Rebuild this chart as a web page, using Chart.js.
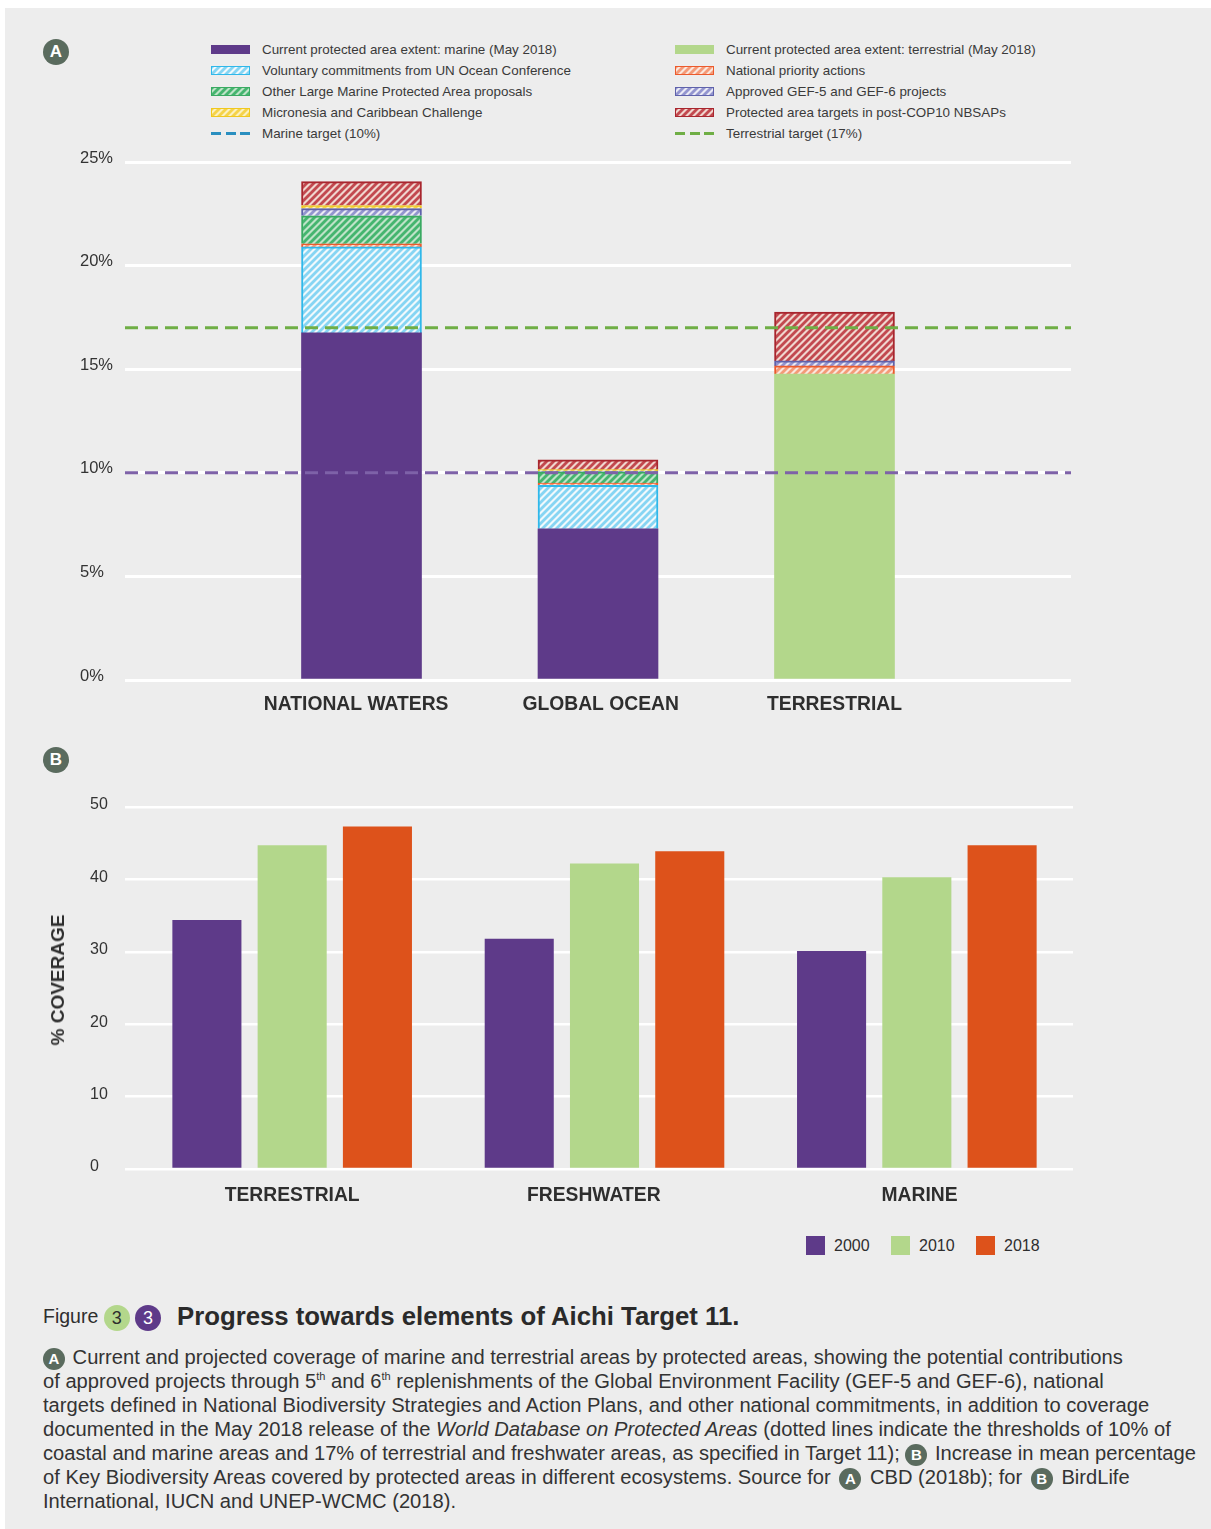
<!DOCTYPE html>
<html>
<head>
<meta charset="utf-8">
<title>Progress towards elements of Aichi Target 11</title>
<script src="https://cdn.jsdelivr.net/npm/chart.js@4/dist/chart.umd.min.js"></script>
<style>
html, body { margin: 0; padding: 0; background: #fff; }
body { width: 1211px; height: 1529px; position: relative; overflow: hidden; font-family: "Liberation Sans", Arial, sans-serif; color: #2e2e2e; }
#panel { position: absolute; left: 5px; top: 8px; width: 1206px; height: 1521px; background: #ededed; }
canvas { position: absolute; left: 0; }
#chartA { top: 140px; }
#chartB { top: 790px; }
.badge { position: absolute; width: 26px; height: 26px; line-height: 26px; border-radius: 50%; background: #5a6b5e; color: #fff; text-align: center; font-size: 17px; font-weight: bold; }
#legendA div { position: absolute; font-size: 13.4px; line-height: 16px; white-space: nowrap; color: #3a3a3a; }
#legendA i { position: absolute; left: -51px; top: 3px; width: 37px; height: 7px; border: 1px solid; display: block; }
#legendA i.dash { height: 3px; top: 6px; border: 0; width: 39px; }
#legendB span { position: absolute; top: 1236px; font-size: 16px; line-height: 19px; color: #2e2e2e; }
#legendB i { position: absolute; left: -28px; top: 0; width: 19px; height: 19px; display: block; }
#axisB { position: absolute; left: 58px; top: 980px; transform: translate(-50%, -50%) rotate(-90deg); font-size: 19px; font-weight: bold; white-space: nowrap; }
#figure { position: absolute; left: 43px; top: 1304px; font-size: 19.5px; line-height: 24px; white-space: nowrap; }
.dot { display: inline-block; width: 26px; height: 26px; line-height: 26px; border-radius: 50%; text-align: center; font-size: 18px; vertical-align: -1px; }
#title { position: absolute; left: 177px; top: 1300px; font-size: 25.75px; line-height: 32px; font-weight: bold; white-space: nowrap; color: #2a2a2a; }
#caption { position: absolute; left: 43px; top: 1345px; font-size: 20.15px; white-space: nowrap; color: #333; }
#caption div { height: 24px; line-height: 24px; }
#caption .dot { width: 22px; height: 22px; line-height: 22px; background: #5a6b5e; color: #fff; font-size: 15px; font-weight: bold; margin: 0 2px 0 0; vertical-align: 0; }
#caption .mid { margin: 0 3px; }
#caption sup { font-size: 11px; line-height: 0; }
</style>
</head>
<body>
<div id="panel"></div>
<div class="badge" style="left:43px;top:39px">A</div>
<div class="badge" style="left:43px;top:747px">B</div>
<div id="legendA"></div>
<canvas id="chartA" width="1211" height="590"></canvas>
<canvas id="chartB" width="1211" height="420"></canvas>
<div id="axisB">% COVERAGE</div>
<div id="legendB"></div>
<div id="figure">Figure <span class="dot" style="background:#b3d78b;color:#2e2e2e">3</span> <span class="dot" style="background:#5e3a89;color:#fff">3</span></div>
<div id="title">Progress towards elements of Aichi Target 11.</div>
<div id="caption">
<div><span class="dot">A</span> Current and projected coverage of marine and terrestrial areas by protected areas, showing the potential contributions</div>
<div>of approved projects through 5<sup>th</sup> and 6<sup>th</sup> replenishments of the Global Environment Facility (GEF-5 and GEF-6), national</div>
<div>targets defined in National Biodiversity Strategies and Action Plans, and other national commitments, in addition to coverage</div>
<div>documented in the May 2018 release of the <em>World Database on Protected Areas</em> (dotted lines indicate the thresholds of 10% of</div>
<div>coastal and marine areas and 17% of terrestrial and freshwater areas, as specified in Target 11); <span class="dot">B</span> Increase in mean percentage</div>
<div>of Key Biodiversity Areas covered by protected areas in different ecosystems. Source for <span class="dot mid">A</span> CBD (2018b); for <span class="dot mid">B</span> BirdLife</div>
<div>International, IUCN and UNEP-WCMC (2018).</div>
</div>

<script>
// Panel A data
var areaLabels = ["", "NATIONAL WATERS", "GLOBAL OCEAN", "TERRESTRIAL", ""];
var areaTicks = [0, 5, 10, 15, 20, 25];
var marineExtent = [null, 16.75, 7.3, null, null];
var terrestrialExtent = [null, null, null, 14.77, null];
var voluntary = [null, 4.15, 2.1, null, null];
var nationalPriority = [null, 0.15, 0.1, 0.39, null];
var otherLarge = [null, 1.35, 0.55, null, null];
var approvedGef = [null, 0.35, 0.03, 0.24, null];
var micronesia = [null, 0.15, 0.07, null, null];
var nbsapTargets = [null, 1.15, 0.47, 2.36, null];
var marineTarget = [10, 10, 10, 10, 10];
var terrestrialTarget = [17, 17, 17, 17, 17];

// Panel B data
var ecoLabels = ["TERRESTRIAL", "FRESHWATER", "MARINE"];
var ecoTicks = [0, 10, 20, 30, 40, 50];
var years = ["2000", "2010", "2018"];
var cov2000 = [34.4, 31.8, 30.1];
var cov2010 = [44.7, 42.2, 40.3];
var cov2018 = [47.3, 43.9, 44.7];
var yearColors = ["#5e3a89", "#b3d78b", "#dd521b"];

// Diagonal hatch tile
function hatch(color, gap) {
    var c = document.createElement("canvas");
    c.width = 7;
    c.height = 7;
    var g = c.getContext("2d");
    g.fillStyle = gap;
    g.fillRect(0, 0, 7, 7);
    g.strokeStyle = color;
    g.lineWidth = 2.8;
    [[-7, 7, 7, -7], [0, 7, 7, 0], [0, 14, 14, 0]].forEach(function (l) {
        g.beginPath();
        g.moveTo(l[0], l[1]);
        g.lineTo(l[2], l[3]);
        g.stroke();
    });
    return c;
}

function hatchBar(label, values, fill, gap, border) {
    var tile = hatch(fill, gap);
    return {
        label: label,
        data: values,
        backgroundColor: document.createElement("canvas").getContext("2d").createPattern(tile, "repeat"),
        borderColor: border,
        borderWidth: 2,
        barThickness: 120,
        order: 1,
        swatch: tile.toDataURL(),
    };
}

function solidBar(label, values, color) {
    return { label: label, data: values, backgroundColor: color, barThickness: 120, order: 1, swatchColor: color };
}

function targetLine(label, values, color, stack) {
    return {
        type: "line",
        label: label,
        data: values,
        stack: stack,
        borderColor: color,
        borderWidth: 3,
        borderDash: [13, 7],
        pointRadius: 0,
        order: 0,
    };
}

// trailing or leading blanks nudge the centred labels to where they sit in the figure
function nudged(labels, pads) {
    return function (v, i) {
        return " ".repeat(pads[i][0]) + labels[i] + " ".repeat(pads[i][1]);
    };
}

var barsA = [
    solidBar("Current protected area extent: marine (May 2018)", marineExtent, "#5e3a89"),
    solidBar("Current protected area extent: terrestrial (May 2018)", terrestrialExtent, "#b3d78b"),
    hatchBar("Voluntary commitments from UN Ocean Conference", voluntary, "#86d5f3", "#f0f9fc", "#2fb8ea"),
    hatchBar("National priority actions", nationalPriority, "#f49a78", "#fbe6dc", "#ec5a2c"),
    hatchBar("Other Large Marine Protected Area proposals", otherLarge, "#45b56f", "#bfe3c8", "#3aaa62"),
    hatchBar("Approved GEF-5 and GEF-6 projects", approvedGef, "#9395cf", "#eaeaf5", "#5f62ab"),
    hatchBar("Micronesia and Caribbean Challenge", micronesia, "#f5d34a", "#fbf1c0", "#f0c81e"),
    hatchBar("Protected area targets in post-COP10 NBSAPs", nbsapTargets, "#c2494f", "#f0d6cf", "#a8262e"),
];

new Chart("chartA", {
    type: "bar",
    data: {
        labels: areaLabels,
        datasets: barsA.concat([
            targetLine("Marine target (10%)", marineTarget, "#7e62a8", "m"),
            targetLine("Terrestrial target (17%)", terrestrialTarget, "#6fae45", "t"),
        ]),
    },
    options: {
        responsive: false,
        animation: false,
        layout: { padding: { left: 80, right: 140, top: 22, bottom: 0 } },
        plugins: { legend: { display: false }, tooltip: { enabled: false } },
        scales: {
            x: {
                stacked: true,
                offset: false,
                afterFit: function (s) { s.height = 50; },
                grid: { display: false },
                border: { display: false },
                ticks: {
                    color: "#2e2e2e",
                    font: { family: "Liberation Sans", size: 19.3, weight: "bold" },
                    padding: 5,
                    autoSkip: false,
                    maxRotation: 0,
                    callback: nudged(areaLabels, [[0, 0], [0, 2], [1, 0], [0, 0], [0, 0]]),
                },
            },
            y: {
                stacked: true,
                min: 0,
                max: 25,
                afterFit: function (s) { s.width = 45; },
                afterBuildTicks: function (s) { s.ticks = areaTicks.map(function (v) { return { value: v }; }); },
                grid: { color: "#ffffff", lineWidth: 3, drawTicks: false },
                border: { display: false },
                ticks: {
                    color: "#333",
                    font: { family: "Liberation Sans", size: 16.5 },
                    crossAlign: "far",
                    labelOffset: -4,
                    callback: function (v) { return v + "%"; },
                },
            },
        },
    },
});

new Chart("chartB", {
    type: "bar",
    data: {
        labels: ecoLabels,
        datasets: [cov2000, cov2010, cov2018].map(function (values, i) {
            return { label: years[i], data: values, backgroundColor: yearColors[i], categoryPercentage: 0.819, barPercentage: 0.81 };
        }),
    },
    options: {
        responsive: false,
        animation: false,
        layout: { padding: { left: 90, right: 138, top: 17, bottom: 0 } },
        plugins: { legend: { display: false }, tooltip: { enabled: false } },
        scales: {
            x: {
                afterFit: function (s) { s.height = 41; },
                grid: { display: false },
                border: { display: false },
                ticks: {
                    color: "#2e2e2e",
                    font: { family: "Liberation Sans", size: 19.3, weight: "bold" },
                    padding: 7,
                    maxRotation: 0,
                    callback: nudged(ecoLabels, [[0, 0], [0, 4], [1, 0]]),
                },
            },
            y: {
                min: 0,
                max: 50,
                afterFit: function (s) { s.width = 46; },
                afterBuildTicks: function (s) { s.ticks = ecoTicks.map(function (v) { return { value: v }; }); },
                grid: { color: "#ffffff", lineWidth: 2.5, tickLength: 11 },
                border: { display: false },
                ticks: { color: "#333", font: { family: "Liberation Sans", size: 16 }, crossAlign: "far", labelOffset: -2 },
            },
        },
    },
});

// Legends built from the same series
var legendRows = [
    [0, 0, barsA[0]], [1, 0, barsA[1]],
    [0, 1, barsA[2]], [1, 1, barsA[3]],
    [0, 2, barsA[4]], [1, 2, barsA[5]],
    [0, 3, barsA[6]], [1, 3, barsA[7]],
];
var legendA = document.getElementById("legendA");
function addLegendItem(col, row, label, swatch) {
    var d = document.createElement("div");
    d.style.left = (col ? 726 : 262) + "px";
    d.style.top = (42 + row * 21) + "px";
    d.textContent = label;
    d.appendChild(swatch);
    legendA.appendChild(d);
}
legendRows.forEach(function (r) {
    var i = document.createElement("i");
    var ds = r[2];
    if (ds.swatch) {
        i.style.backgroundImage = "url(" + ds.swatch + ")";
        i.style.borderColor = ds.borderColor;
    } else {
        i.style.background = ds.swatchColor;
        i.style.borderColor = ds.swatchColor;
    }
    addLegendItem(r[0], r[1], ds.label, i);
});
[["Marine target (10%)", "#2a8fc0"], ["Terrestrial target (17%)", "#6fae45"]].forEach(function (t, col) {
    var i = document.createElement("i");
    i.className = "dash";
    i.style.background = "repeating-linear-gradient(90deg, " + t[1] + " 0 10px, transparent 10px 14.5px)";
    addLegendItem(col, 4, t[0], i);
});

var legendB = document.getElementById("legendB");
years.forEach(function (y, k) {
    var s = document.createElement("span");
    s.style.left = (834 + k * 85) + "px";
    s.textContent = y;
    var i = document.createElement("i");
    i.style.background = yearColors[k];
    s.appendChild(i);
    legendB.appendChild(s);
});
</script>
</body>
</html>
